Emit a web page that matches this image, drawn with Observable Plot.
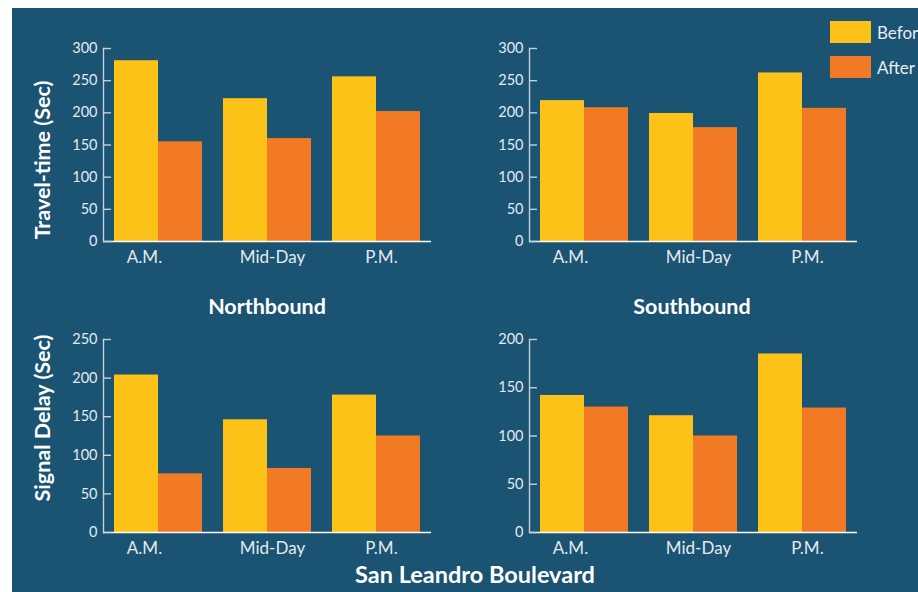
<!DOCTYPE html>
<html>
<head>
<meta charset="utf-8">
<script src="https://cdn.jsdelivr.net/npm/d3@7"></script>
<script src="https://cdn.jsdelivr.net/npm/@observablehq/plot@0.6"></script>
<style>
  html, body { margin: 0; padding: 0; background: #ffffff; overflow: hidden; }
  body { width: 918px; height: 592px; position: relative; font-family: Lato, "Open Sans", sans-serif; }
  #panel-bg { position: absolute; left: 12px; top: 8px; right: 0; bottom: 0; background: #1b5372; }
  .chart { position: absolute; }
  .title { position: absolute; color: #ffffff; font-weight: 700; white-space: nowrap; transform: translate(-50%, -50%); }
  .ytitle { position: absolute; color: #ffffff; font-weight: 700; font-size: 21.5px; white-space: nowrap; transform: translate(-50%, -50%) rotate(-90deg); }
  .legend-item { position: absolute; left: 830px; display: flex; align-items: center; color: #e8eef2; font-size: 17px; white-space: nowrap; }
  .swatch { width: 41px; height: 22px; margin-right: 6px; }
</style>
</head>
<body>
<div id="panel-bg"></div>
<div id="charts"></div>
<div class="ytitle" style="left:42px; top:160px;">Travel-time (Sec)</div>
<div class="ytitle" style="left:42px; top:418px;">Signal Delay (Sec)</div>
<div class="title" style="left:267px; top:306px; font-size:21.5px;">Northbound</div>
<div class="title" style="left:692px; top:306px; font-size:21.5px;">Southbound</div>
<div class="title" style="left:475px; top:574px; font-size:23.5px;">San Leandro Boulevard</div>
<div id="legend"></div>
<script>
// Periods of the day and the before/after series for each panel
const periods = ["A.M.", "Mid-Day", "P.M."];
const seriesNames = ["Before", "After"];

const northTravelBefore = [281, 222, 256];
const northTravelAfter  = [155, 160, 202];
const southTravelBefore = [219, 199, 262];
const southTravelAfter  = [208, 177, 207];

const northDelayBefore = [204, 146, 178];
const northDelayAfter  = [76, 83, 125];
const southDelayBefore = [142, 121, 185];
const southDelayAfter  = [130, 100, 129];

const travelTicks = [0, 50, 100, 150, 200, 250, 300];
const northDelayTicks = [0, 50, 100, 150, 200, 250];
const southDelayTicks = [0, 50, 100, 150, 200];

const colors = {Before: "#fdc217", After: "#f27a24"};
const axisColor = "#c3d1db";
const labelColor = "#e3eaef";

// Band layout: groups of two adjacent bars with a gap between groups
const paddingInner = 0.1927;
const paddingOuter = 0.1009;
const plotWidth = 391, marginLeft = 53, marginRight = 10;
const innerWidth = plotWidth - marginLeft - marginRight;
const step = innerWidth / (periods.length - paddingInner + 2 * paddingOuter);
const halfBand = step * (1 - paddingInner) / 2;

function panel({before, after, ticks, left, top, marginTop}) {
  const rows = periods.map((p, i) => ({period: p, before: before[i], after: after[i]}));
  const height = 246 - (18 - marginTop);
  const chart = Plot.plot({
    width: plotWidth,
    height,
    marginLeft, marginRight, marginTop, marginBottom: 35,
    style: {background: "transparent", color: labelColor, fontFamily: "Lato, 'Open Sans', sans-serif", overflow: "visible"},
    x: {domain: periods, paddingInner, paddingOuter, axis: null, label: null},
    y: {domain: [0, ticks[ticks.length - 1]], axis: null, label: null},
    marks: [
      Plot.barY(rows, {x: "period", y: "before", fill: colors.Before, insetLeft: 0, insetRight: halfBand}),
      Plot.barY(rows, {x: "period", y: "after", fill: colors.After, insetLeft: halfBand, insetRight: 0}),
      Plot.ruleY([0], {stroke: "#ffffff", strokeWidth: 1.6}),
      Plot.frame({anchor: "left", stroke: axisColor, strokeWidth: 1.4}),
      Plot.axisY({ticks, tickSize: -8, tickPadding: 14, stroke: axisColor, strokeWidth: 1.4, fill: labelColor, fontSize: 14.5, label: null}),
      Plot.axisX({ticks: ["A.M."], tickSize: 0, tickPadding: 9, dx: -14, fill: labelColor, fontSize: 17, label: null}),
      Plot.axisX({ticks: ["Mid-Day", "P.M."], tickSize: 0, tickPadding: 9, dx: 5, fill: labelColor, fontSize: 17, label: null})
    ]
  });
  chart.classList.add("chart");
  chart.style.left = left + "px";
  chart.style.top = top + "px";
  document.getElementById("charts").appendChild(chart);
}

panel({before: northTravelBefore, after: northTravelAfter, ticks: travelTicks, left: 50, top: 30, marginTop: 18});
panel({before: southTravelBefore, after: southTravelAfter, ticks: travelTicks, left: 476, top: 30, marginTop: 18});
panel({before: northDelayBefore, after: northDelayAfter, ticks: northDelayTicks, left: 50, top: 320, marginTop: 19});
panel({before: southDelayBefore, after: southDelayAfter, ticks: southDelayTicks, left: 476, top: 320, marginTop: 19});

// Legend swatches
const legend = document.getElementById("legend");
seriesNames.forEach((name, i) => {
  const item = document.createElement("div");
  item.className = "legend-item";
  item.style.top = (21 + i * 35) + "px";
  const sw = document.createElement("div");
  sw.className = "swatch";
  sw.style.background = colors[name];
  const label = document.createElement("span");
  label.textContent = name;
  item.appendChild(sw);
  item.appendChild(label);
  legend.appendChild(item);
});
</script>
</body>
</html>
